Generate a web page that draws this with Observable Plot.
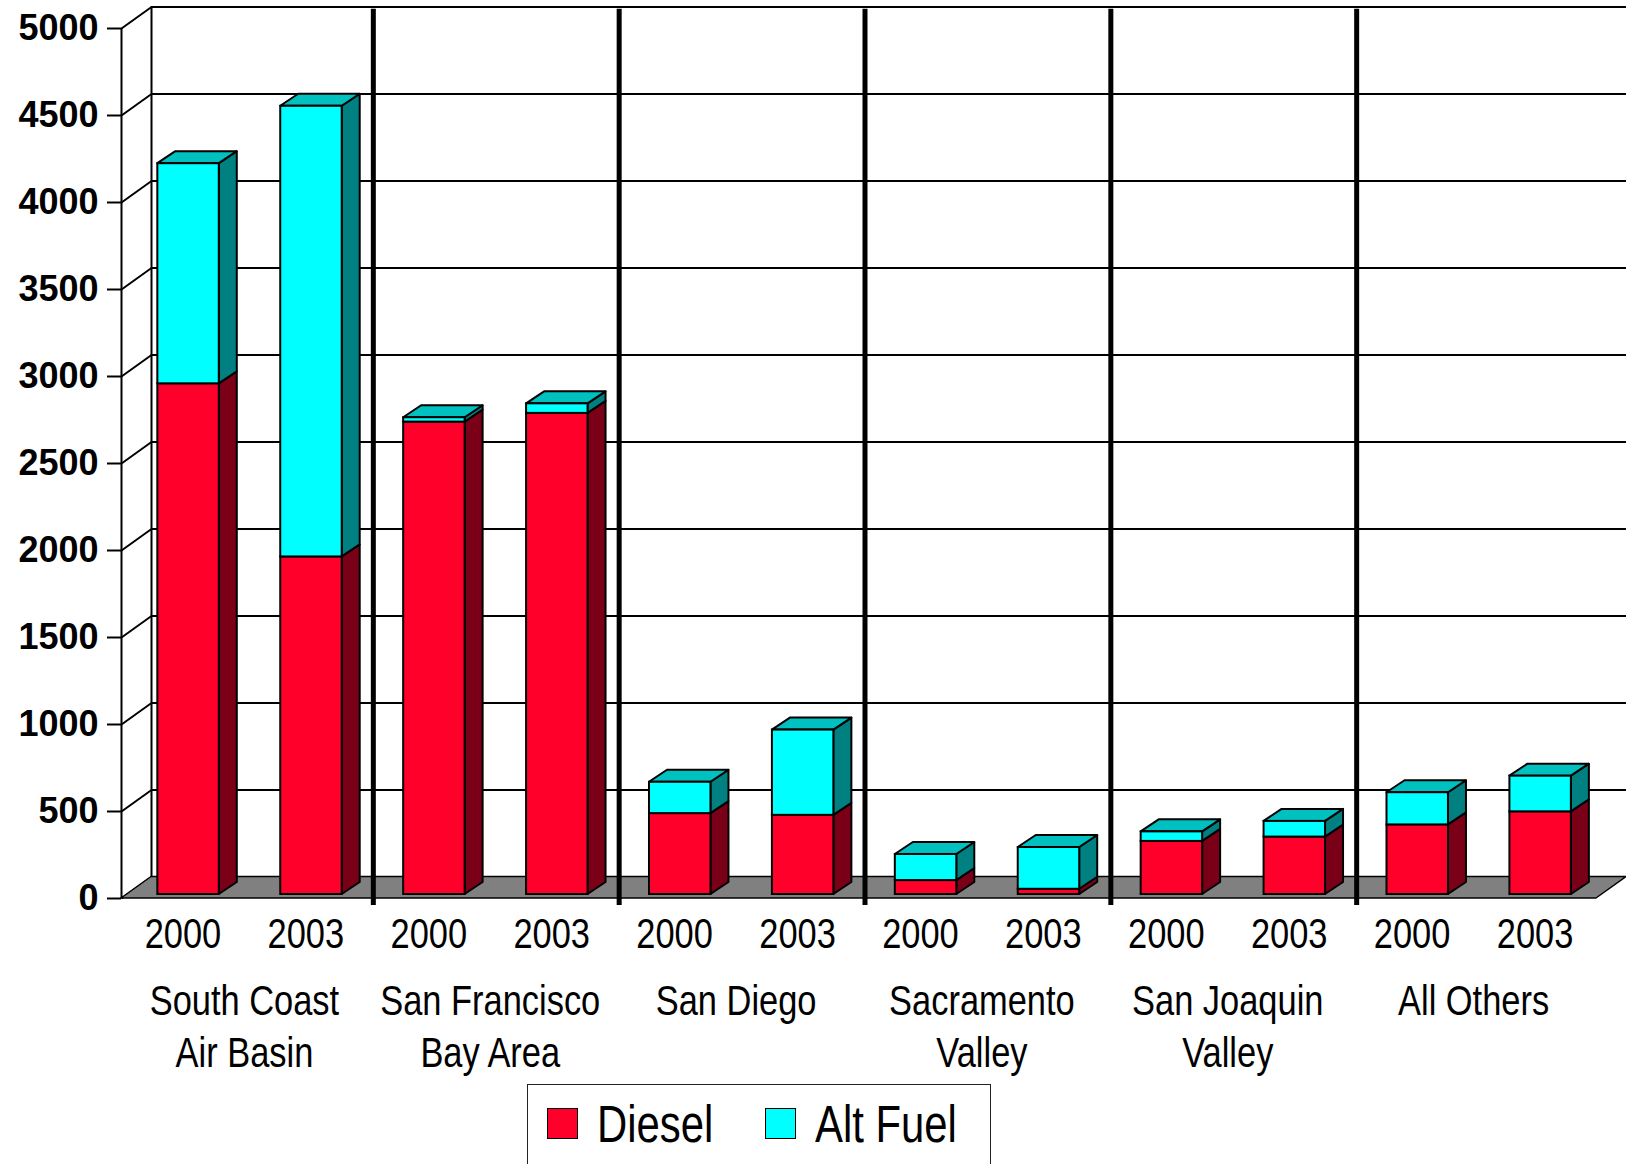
<!DOCTYPE html>
<html>
<head>
<meta charset="utf-8">
<script src="https://cdn.jsdelivr.net/npm/d3@7"></script>
<script src="https://cdn.jsdelivr.net/npm/@observablehq/plot@0.6"></script>
<style>
  html, body { margin: 0; padding: 0; background: #fff; overflow: hidden; }
  #chart svg { display: block; }
  #legend { position: absolute; left: 527px; top: 1084px; width: 464px; height: 120px;
            border: 1.5px solid #222; box-sizing: border-box; background: #fff; }
  #legend .sw { position: absolute; width: 31px; height: 31px; border: 1.5px solid #000; box-sizing: border-box; top: 22.5px; }
  #legend .lbl { position: absolute; top: 14px; font-family: "Liberation Sans", Arial, sans-serif;
                 font-size: 51px; line-height: 51px; color: #000; white-space: nowrap;
                 transform: scaleX(0.82); transform-origin: 0 0; }
</style>
</head>
<body>
<div id="chart"></div>
<div id="legend"></div>
<script>
// ---------------- data ----------------
const regions = ["South Coast\nAir Basin", "San Francisco\nBay Area", "San Diego", "Sacramento\nValley", "San Joaquin\nValley", "All Others"];
const years = ["2000", "2003"];
const seriesNames = ["Diesel", "Alt Fuel"];
const diesel  = [2935, 1940, 2715, 2765, 465, 455, 80, 30, 305, 330, 400, 475];
const altFuel = [1265, 2590,   25,   55, 180, 490, 150, 240, 55,  90, 185, 205];
const yTicks = [0, 500, 1000, 1500, 2000, 2500, 3000, 3500, 4000, 4500, 5000];

// ---------------- layout / style ----------------
const W = 1626, H = 1080;
const mL = 121, mR = 30, mT = 28, mB = 182;
const nSlots = diesel.length;
const yMax = yTicks[yTicks.length - 1];
const pxX = (W - mL - mR) / nSlots;
const pxY = (H - mT - mB) / yMax;
const wall = {dx: 30 / pxX, dy: 21.5 / pxY};        // back wall depth
const barOff = {dx: 5.6 / pxX, dy: 4 / pxY};        // bar front plane offset
const barDepth = {dx: 18 / pxX, dy: 12 / pxY};      // bar depth
const barHalf = 0.25;
const colors = {
  "Diesel":   {front: "#FF002A", side: "#7A0018", top: "#C00020"},
  "Alt Fuel": {front: "#00FFFF", side: "#008080", top: "#00C0C0"}
};
const labelFont = '"Liberation Sans", Arial, sans-serif';
const narrowScale = 0.82;
const series = [diesel, altFuel];

// ---------------- derived segments ----------------
const segs = [];
for (let i = 0; i < nSlots; i++) {
  let base = 0;
  series.forEach((arr, k) => {
    const v = arr[i];
    segs.push({
      key: i + "-" + k, i, fuel: seriesNames[k], last: k === series.length - 1,
      x1: i + 0.5 - barHalf + barOff.dx, x2: i + 0.5 + barHalf + barOff.dx,
      y1: base + barOff.dy, y2: base + v + barOff.dy
    });
    base += v;
  });
}

const marks = [];
// back wall gridlines
marks.push(Plot.ruleY(yTicks.slice(1), {y: v => v + wall.dy, x1: wall.dx, x2: nSlots + wall.dx, stroke: "#000", strokeWidth: 2}));
// left wall diagonals
marks.push(Plot.link(yTicks, {x1: 0, y1: v => v, x2: wall.dx, y2: v => v + wall.dy, stroke: "#000", strokeWidth: 2}));
// back-left vertical edge and front axis line
marks.push(Plot.ruleX([wall.dx], {y1: wall.dy, y2: yMax + wall.dy, stroke: "#000", strokeWidth: 2}));
marks.push(Plot.ruleX([0], {y1: 0, y2: yMax, stroke: "#000", strokeWidth: 2}));
// floor
marks.push(Plot.areaX([{y: 0, x1: 0, x2: nSlots}, {y: wall.dy, x1: wall.dx, x2: nSlots + wall.dx}],
  {y: "y", x1: "x1", x2: "x2", fill: "#808080", stroke: "#000", strokeWidth: 1.5}));

// bars
for (const name of seriesNames) {
  const c = colors[name];
  const s = segs.filter(d => d.fuel === name);
  const sidePts = s.flatMap(d => [
    {key: d.key, x: d.x2, y1: d.y1, y2: d.y2},
    {key: d.key, x: d.x2 + barDepth.dx, y1: d.y1 + barDepth.dy, y2: d.y2 + barDepth.dy}
  ]);
  marks.push(Plot.areaY(sidePts, {x: "x", y1: "y1", y2: "y2", z: "key", fill: c.side, stroke: "#000", strokeWidth: 2, strokeLinejoin: "round"}));
  const topPts = s.filter(d => d.last).flatMap(d => [
    {key: d.key, y: d.y2, x1: d.x1, x2: d.x2},
    {key: d.key, y: d.y2 + barDepth.dy, x1: d.x1 + barDepth.dx, x2: d.x2 + barDepth.dx}
  ]);
  marks.push(Plot.areaX(topPts, {y: "y", x1: "x1", x2: "x2", z: "key", fill: c.top, stroke: "#000", strokeWidth: 2, strokeLinejoin: "round"}));
  marks.push(Plot.rect(s, {x1: "x1", x2: "x2", y1: "y1", y2: "y2", fill: c.front, stroke: "#000", strokeWidth: 2}));
}

// group dividers
const groupBounds = d3.range(1, regions.length).map(g => g * years.length);
marks.push(Plot.ruleX(groupBounds, {y1: -40, y2: 5110, stroke: "#000", strokeWidth: 5, dx: 6}));

// axes
marks.push(Plot.axisY(yTicks, {anchor: "left", tickSize: 14, tickPadding: 9, strokeWidth: 2, label: null,
  tickFormat: d => String(d), fontSize: 36, fontWeight: "bold", fontFamily: '"Liberation Sans", Arial, sans-serif'}));
marks.push(Plot.axisX(d3.range(nSlots).map(i => i + 0.5), {anchor: "bottom", tickSize: 0, tickPadding: 20, label: null,
  tickFormat: v => years[Math.floor(v) % years.length], fontSize: 42, fontFamily: labelFont}));
marks.push(Plot.axisX(regions.map((r, g) => g * years.length + years.length / 2), {anchor: "bottom", tickSize: 0, tickPadding: 79, label: null,
  tickFormat: v => regions[Math.round((v - years.length / 2) / years.length)], fontSize: 42, lineHeight: 1.25, fontFamily: labelFont}));

const chart = Plot.plot({
  width: W, height: H,
  marginLeft: mL, marginRight: mR, marginTop: mT, marginBottom: mB,
  x: {domain: [0, nSlots]},
  y: {domain: [0, yMax]},
  style: {background: "#fff", overflow: "visible", color: "#000"},
  marks
});
// condensed look of the category labels (narrow face not installed)
d3.select(chart).selectAll('g[aria-label="x-axis tick label"] text').each(function() {
  const t = this.getAttribute("transform") || "";
  this.setAttribute("transform", t + ` scale(${narrowScale},1)`);
});
document.getElementById("chart").appendChild(chart);

// legend
const legend = document.getElementById("legend");
const legendPos = [{sw: 18.5, lbl: 68.5}, {sw: 236.5, lbl: 286.5}];
seriesNames.forEach((name, k) => {
  const sw = document.createElement("span");
  sw.className = "sw"; sw.style.left = legendPos[k].sw + "px"; sw.style.background = colors[name].front;
  const lb = document.createElement("span");
  lb.className = "lbl"; lb.style.left = legendPos[k].lbl + "px"; lb.textContent = name;
  legend.appendChild(sw); legend.appendChild(lb);
});
</script>
</body>
</html>
